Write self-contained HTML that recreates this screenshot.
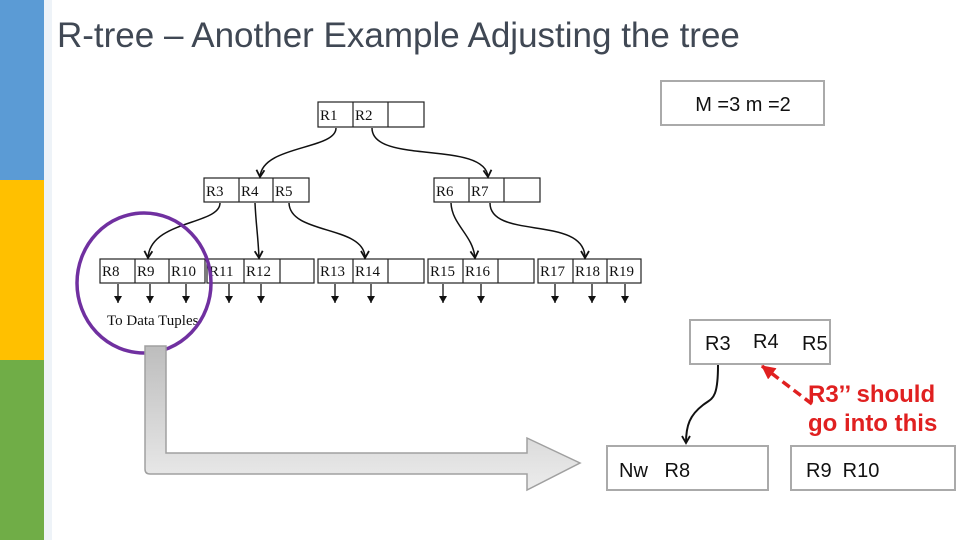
<!DOCTYPE html>
<html><head><meta charset="utf-8"><style>
html,body{margin:0;padding:0;background:#fff;}
svg{display:block;}
</style></head><body>
<svg width="960" height="540" viewBox="0 0 960 540" xmlns="http://www.w3.org/2000/svg">
<defs>
<linearGradient id="ga" x1="0" y1="0" x2="0" y2="1"><stop offset="0" stop-color="#bdbdbd"/><stop offset="1" stop-color="#ececec"/></linearGradient>
<marker id="ah" markerWidth="10" markerHeight="10" refX="8" refY="5" orient="auto" markerUnits="userSpaceOnUse"><path d="M1,1 L8,5 L1,9" fill="none" stroke="#111" stroke-width="1.8"/></marker>
<marker id="dt" markerWidth="8" markerHeight="10" refX="7" refY="4" orient="auto" markerUnits="userSpaceOnUse"><path d="M0,0 L7,4 L0,8 Z" fill="#111"/></marker>
<marker id="ra" markerWidth="16" markerHeight="16" refX="13" refY="7" orient="auto" markerUnits="userSpaceOnUse"><path d="M0,0 L14,7 L0,14 Z" fill="#e02020"/></marker>
</defs>
<rect x="0" y="0" width="44" height="180" fill="#5b9bd5"/>
<rect x="0" y="180" width="44" height="180" fill="#ffc000"/>
<rect x="0" y="360" width="44" height="180" fill="#70ad47"/>
<rect x="44" y="0" width="8" height="540" fill="#eef3f8"/>
<text x="57" y="47" font-family="Liberation Sans, sans-serif" font-size="35" fill="#404854">R-tree – Another Example Adjusting the tree</text>

<rect x="661" y="81" width="163" height="44" fill="#fff" stroke="#aaa" stroke-width="2"/>
<text x="743" y="111" text-anchor="middle" font-family="Liberation Sans, sans-serif" font-size="20" fill="#111">M =3 m =2</text>

<g font-family="Liberation Serif, serif" font-size="15" fill="#111" stroke="#222" stroke-width="1.2">
<g fill="#fff">
<rect x="318" y="102" width="106" height="25"/><line x1="353" y1="102" x2="353" y2="127"/><line x1="388" y1="102" x2="388" y2="127"/>
<rect x="204" y="178" width="105" height="24"/><line x1="239" y1="178" x2="239" y2="202"/><line x1="273" y1="178" x2="273" y2="202"/>
<rect x="434" y="178" width="106" height="24"/><line x1="469" y1="178" x2="469" y2="202"/><line x1="504" y1="178" x2="504" y2="202"/>
<rect x="100" y="259" width="105" height="24"/><line x1="135" y1="259" x2="135" y2="283"/><line x1="169" y1="259" x2="169" y2="283"/>
<rect x="207" y="259" width="107" height="24"/><line x1="244" y1="259" x2="244" y2="283"/><line x1="280" y1="259" x2="280" y2="283"/>
<rect x="318" y="259" width="106" height="24"/><line x1="353" y1="259" x2="353" y2="283"/><line x1="388" y1="259" x2="388" y2="283"/>
<rect x="428" y="259" width="106" height="24"/><line x1="463" y1="259" x2="463" y2="283"/><line x1="498" y1="259" x2="498" y2="283"/>
<rect x="538" y="259" width="103" height="24"/><line x1="573" y1="259" x2="573" y2="283"/><line x1="607" y1="259" x2="607" y2="283"/>
</g>
<g stroke="none">
<text x="320" y="120">R1</text><text x="355" y="120">R2</text>
<text x="206" y="196">R3</text><text x="241" y="196">R4</text><text x="275" y="196">R5</text>
<text x="436" y="196">R6</text><text x="471" y="196">R7</text>
<text x="102" y="276">R8</text><text x="137" y="276">R9</text><text x="171" y="276">R10</text>
<text x="209" y="276">R11</text><text x="246" y="276">R12</text>
<text x="320" y="276">R13</text><text x="355" y="276">R14</text>
<text x="430" y="276">R15</text><text x="465" y="276">R16</text>
<text x="540" y="276">R17</text><text x="575" y="276">R18</text><text x="609" y="276">R19</text>
<text x="107" y="325" font-size="15">To Data Tuples</text>
</g>
<g fill="none" stroke="#111" stroke-width="1.5" marker-end="url(#ah)">
<path d="M336,128 C336,150 262,145 260,177"/>
<path d="M372,128 C372,165 485,140 488,177"/>
<path d="M220,203 C220,225 150,220 148,258"/>
<path d="M255,203 C256,225 258,235 259,258"/>
<path d="M289,203 C290,235 365,225 365,258"/>
<path d="M451,203 C452,225 473,235 475,258"/>
<path d="M490,203 C490,240 585,215 585,258"/>
</g>
<g stroke="#111" stroke-width="1.3" marker-end="url(#dt)">
<line x1="118" y1="284" x2="118" y2="303"/><line x1="150" y1="284" x2="150" y2="303"/><line x1="186" y1="284" x2="186" y2="303"/>
<line x1="229" y1="284" x2="229" y2="303"/><line x1="261" y1="284" x2="261" y2="303"/>
<line x1="335" y1="284" x2="335" y2="303"/><line x1="371" y1="284" x2="371" y2="303"/>
<line x1="443" y1="284" x2="443" y2="303"/><line x1="481" y1="284" x2="481" y2="303"/>
<line x1="555" y1="284" x2="555" y2="303"/><line x1="592" y1="284" x2="592" y2="303"/><line x1="625" y1="284" x2="625" y2="303"/>
</g>
</g>

<ellipse cx="144" cy="283" rx="67" ry="70" fill="none" stroke="#7030a0" stroke-width="3.5"/>

<path d="M145,346 L166,346 L166,453 L527,453 L527,438 L580,463 L527,490 L527,474 L150,474 Q145,474 145,469 Z" fill="url(#ga)" stroke="#a0a0a0" stroke-width="1.5"/>

<rect x="690" y="320" width="140" height="44" fill="#fff" stroke="#aaa" stroke-width="2"/>
<text x="705" y="350" font-family="Liberation Sans, sans-serif" font-size="20" fill="#111">R3</text>
<text x="753" y="348" font-family="Liberation Sans, sans-serif" font-size="20" fill="#111">R4</text>
<text x="802" y="350" font-family="Liberation Sans, sans-serif" font-size="20" fill="#111">R5</text>

<rect x="607" y="446" width="161" height="44" fill="#fff" stroke="#aaa" stroke-width="2"/>
<text x="619" y="477" font-family="Liberation Sans, sans-serif" font-size="20" fill="#111">Nw&#160;&#160; R8</text>
<rect x="791" y="446" width="164" height="44" fill="#fff" stroke="#aaa" stroke-width="2"/>
<text x="806" y="477" font-family="Liberation Sans, sans-serif" font-size="20" fill="#111">R9&#160; R10</text>

<path d="M718,365 C718,400 712,398 703,405 C690,415 686,425 686,443" fill="none" stroke="#111" stroke-width="2" marker-end="url(#ah)"/>

<line x1="812" y1="404" x2="762" y2="366" stroke="#e02020" stroke-width="3.5" stroke-dasharray="9,5" marker-end="url(#ra)"/>
<text x="808" y="402" font-family="Liberation Sans, sans-serif" font-size="24" font-weight="bold" fill="#e02020">R3’’ should</text>
<text x="808" y="431" font-family="Liberation Sans, sans-serif" font-size="24" font-weight="bold" fill="#e02020">go into this</text>
</svg>
</body></html>
